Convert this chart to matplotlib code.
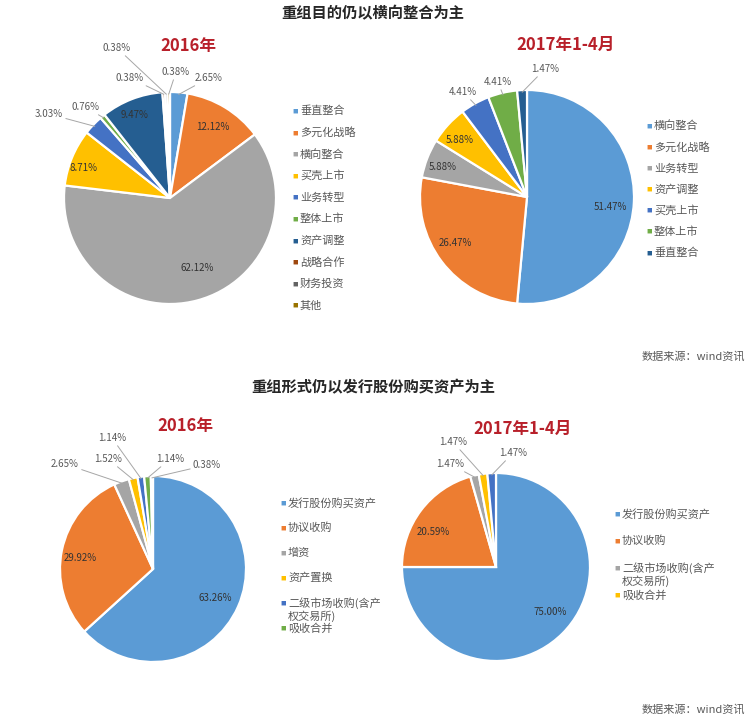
import numpy as np
import matplotlib
matplotlib.use('Agg')
import matplotlib.pyplot as plt

plt.rcParams['font.family'] = ['Noto Sans CJK SC', 'DejaVu Sans']

W, H = 747, 722

# 重组目的
purpose_2016_labels = ['垂直整合', '多元化战略', '横向整合', '买壳上市', '业务转型',
                       '整体上市', '资产调整', '战略合作', '财务投资', '其他']
purpose_2016_values = [2.65, 12.12, 62.12, 8.71, 3.03, 0.76, 9.47, 0.38, 0.38, 0.38]
purpose_2017_labels = ['横向整合', '多元化战略', '业务转型', '资产调整', '买壳上市', '整体上市', '垂直整合']
purpose_2017_values = [51.47, 26.47, 5.88, 5.88, 4.41, 4.41, 1.47]

# 重组形式
form_2016_labels = ['发行股份购买资产', '协议收购', '增资', '资产置换',
                    '二级市场收购(含产权交易所)', '吸收合并', '其他']
form_2016_values = [63.26, 29.92, 2.65, 1.52, 1.14, 1.14, 0.38]
form_2017_labels = ['发行股份购买资产', '协议收购', '二级市场收购(含产权交易所)', '吸收合并', '其他']
form_2017_values = [75.00, 20.59, 1.47, 1.47, 1.47]

office = ['#5B9BD5', '#ED7D31', '#A5A5A5', '#FFC000', '#4472C4', '#70AD47',
          '#255E91', '#9E480E', '#636363', '#997300']
form16_colors = ['#5B9BD5', '#ED7D31', '#A5A5A5', '#FFC000', '#4472C4', '#70AD47', '#BDD7EE']
form17_colors = ['#5B9BD5', '#ED7D31', '#A5A5A5', '#FFC000', '#4472C4']

RED = '#B8202A'
TXT = '#595959'

fig = plt.figure(figsize=(W / 100, H / 100), dpi=100)


def px(x, y):
    return x / W, 1 - y / H


def draw_pie(cx, cy, r, values, colors, label_pos, outside):
    ax = fig.add_axes([(cx - r) / W, 1 - (cy + r) / H, 2 * r / W, 2 * r / H])
    wedges, _ = ax.pie(values, colors=colors, startangle=90, counterclock=False,
                       radius=1, wedgeprops=dict(edgecolor='white', linewidth=1.6))
    ax.set_xlim(-1, 1)
    ax.set_ylim(-1, 1)
    ax.set_aspect('equal')
    ax.axis('off')
    for w, v, (lx, ly), out in zip(wedges, values, label_pos, outside):
        txt = f'{v:.2f}%'
        if out:
            ang = np.deg2rad((w.theta1 + w.theta2) / 2)
            ax.annotate(txt, xy=(0.98 * np.cos(ang), 0.98 * np.sin(ang)),
                        xytext=(lx, H - ly), textcoords='figure pixels',
                        ha='center', va='center', fontsize=7, color=TXT,
                        arrowprops=dict(arrowstyle='-', color='#A6A6A6', lw=0.7,
                                        shrinkA=0, shrinkB=0))
        else:
            fig.text(*px(lx, ly), txt, ha='center', va='center', fontsize=7, color='#333333')
    return ax


def draw_legend(x, y0, dy, labels, colors, line_h=13):
    y = y0
    for lab, c in zip(labels, colors):
        fig.text(*px(x, y), '■', ha='center', va='center', fontsize=4, color=c)
        for k, part in enumerate(lab.split('\n')):
            fig.text(*px(x + 5, y + k * line_h), part, ha='left', va='center',
                     fontsize=8, color=TXT)
        y += dy


# titles
fig.text(*px(373, 13), '重组目的仍以横向整合为主', ha='center', va='center',
         fontsize=11, fontweight='bold', color='#262626')
fig.text(*px(373, 387), '重组形式仍以发行股份购买资产为主', ha='center', va='center',
         fontsize=11, fontweight='bold', color='#262626')
fig.text(*px(745, 356), '数据来源：wind资讯', ha='right', va='center', fontsize=8, color=TXT)
fig.text(*px(745, 709), '数据来源：wind资讯', ha='right', va='center', fontsize=8, color=TXT)

# top-left
fig.text(*px(188, 46), '2016年', ha='center', va='center', fontsize=12, fontweight='bold', color=RED)
draw_pie(170, 198, 106, purpose_2016_values, office,
         [(209, 78), (213, 127), (197, 268), (83, 168), (49, 114), (85, 107),
          (135, 115), (130, 78), (117, 48), (176, 72)],
         [True, False, False, False, True, True, False, True, True, True])
draw_legend(295, 111, 21.6, purpose_2016_labels, office)

# top-right
fig.text(*px(566, 45), '2017年1-4月', ha='center', va='center', fontsize=12, fontweight='bold', color=RED)
draw_pie(527, 197, 107, purpose_2017_values, office[:7],
         [(610, 207), (455, 243), (443, 167), (460, 140), (463, 92), (498, 82), (545, 69)],
         [False, False, False, False, True, True, True])
draw_legend(649, 126, 21.1, purpose_2017_labels, office[:7])

# bottom-left
fig.text(*px(185, 426), '2016年', ha='center', va='center', fontsize=12, fontweight='bold', color=RED)
draw_pie(153, 569, 93, form_2016_values, form16_colors,
         [(215, 598), (80, 558), (65, 464), (108, 459), (112, 438), (170, 459), (207, 465)],
         [False, False, True, True, True, True, True])
leg16 = [s.replace('(含产权', '(含产\n权') for s in form_2016_labels[:6]]
draw_legend(283, 503, 25, leg16, form16_colors[:6])

# bottom-right
fig.text(*px(523, 429), '2017年1-4月', ha='center', va='center', fontsize=12, fontweight='bold', color=RED)
draw_pie(496, 567, 94, form_2017_values, form17_colors,
         [(550, 612), (433, 532), (450, 464), (453, 442), (513, 453)],
         [False, False, True, True, True])
leg17 = [s.replace('(含产权', '(含产\n权') for s in form_2017_labels[:4]]
draw_legend(617, 514, 27, leg17, form17_colors[:4])

fig.savefig('out.png', dpi=100)
